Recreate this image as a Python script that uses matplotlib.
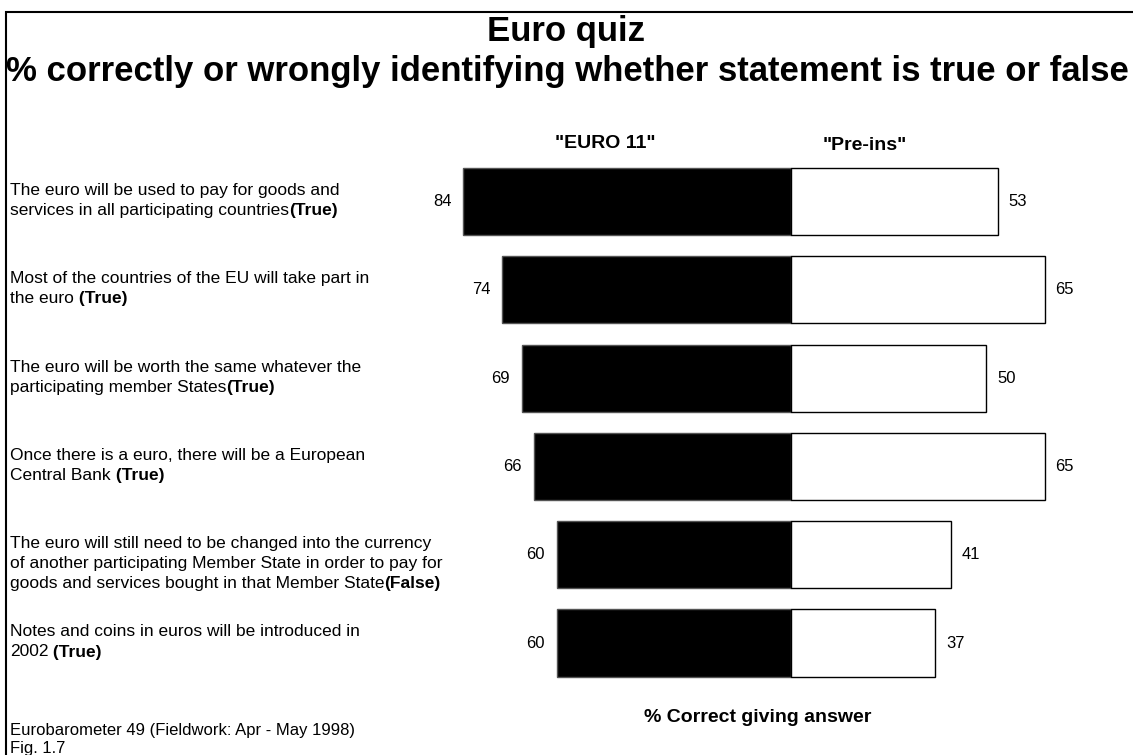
import numpy as np
import matplotlib.pyplot as plt
from matplotlib.patches import Rectangle

plt.rcParams['font.family'] = ['Liberation Sans', 'DejaVu Sans']

# 问卷陈述（最后一段为加粗的答案）
statements = [
    (['The euro will be used to pay for goods and',
      'services in all participating countries'], '(True)'),
    (['Most of the countries of the EU will take part in',
      'the euro'], ' (True)'),
    (['The euro will be worth the same whatever the',
      'participating member States'], '(True)'),
    (['Once there is a euro, there will be a European',
      'Central Bank'], ' (True)'),
    (['The euro will still need to be changed into the currency',
      'of another participating Member State in order to pay for',
      'goods and services bought in that Member State'], '(False)'),
    (['Notes and coins in euros will be introduced in',
      '2002'], ' (True)'),
]
euro11 = [84, 74, 69, 66, 60, 60]
pre_ins = [53, 65, 50, 65, 41, 37]

W, H = 1133, 755
fig = plt.figure(figsize=(W / 100, H / 100), dpi=100)

def fx(px):
    return px / W

def fy(py):
    return 1 - py / H

# 坐标轴：中心线在 x=791 像素，每 1% 约 3.9 像素
ax = fig.add_axes([fx(400), fy(700), fx(700), (700 - 150) / H])
ax.set_xlim((400 - 791) / 3.9, (1100 - 791) / 3.9)
ax.set_ylim((700 - 201.5) / 88.3, (150 - 201.5) / 88.3)
ax.axis('off')

y = np.arange(len(euro11))
ax.barh(y, -np.array(euro11), height=0.76, color='black', edgecolor='#555555', lw=1)
ax.barh(y, pre_ins, height=0.76, color='white', edgecolor='black', lw=1)

for yi, a, b in zip(y, euro11, pre_ins):
    ax.annotate(str(a), xy=(-a, yi), xytext=(-12, 0), textcoords='offset pixels',
                ha='right', va='center', fontsize=12)
    ax.annotate(str(b), xy=(b, yi), xytext=(11, 0), textcoords='offset pixels',
                ha='left', va='center', fontsize=12)

# 左侧陈述文字：第一行略高于条形中心，行距 20 像素
for yi, (lines, answer) in zip(y, statements):
    for j, line in enumerate(lines):
        t = ax.annotate(line, xy=(fx(10), yi), xycoords=('figure fraction', 'data'),
                        xytext=(0, 11 - 20 * j), textcoords='offset pixels',
                        ha='left', va='center', fontsize=12.5, annotation_clip=False)
    ax.annotate(answer, xy=(1, 0.5), xycoords=t, ha='left', va='center',
                fontsize=12.5, fontweight='bold', annotation_clip=False)

# 标题与说明
fig.text(fx(566), fy(32), 'Euro quiz', ha='center', va='center',
         fontsize=25, fontweight='bold')
fig.text(fx(567), fy(72), '% correctly or wrongly identifying whether statement is true or false',
         ha='center', va='center', fontsize=25, fontweight='bold')
fig.text(fx(605), fy(143), '"EURO 11"', ha='center', va='center', fontsize=14, fontweight='bold')
fig.text(fx(865), fy(146), '"Pre-ins"', ha='center', va='center', fontsize=14, fontweight='bold')
fig.text(fx(758), fy(718), '% Correct giving answer', ha='center', va='center',
         fontsize=14, fontweight='bold')
fig.text(fx(10), fy(730), 'Eurobarometer 49 (Fieldwork: Apr - May 1998)', ha='left',
         va='center', fontsize=12)
fig.text(fx(10), fy(749), 'Fig. 1.7', ha='left', va='center', fontsize=12)

# 外框
fig.add_artist(Rectangle((fx(6), -0.1), 1.2, fy(12) + 0.1, transform=fig.transFigure,
                         fill=False, lw=1.5, edgecolor='black'))

fig.savefig('out.png', dpi=100)
